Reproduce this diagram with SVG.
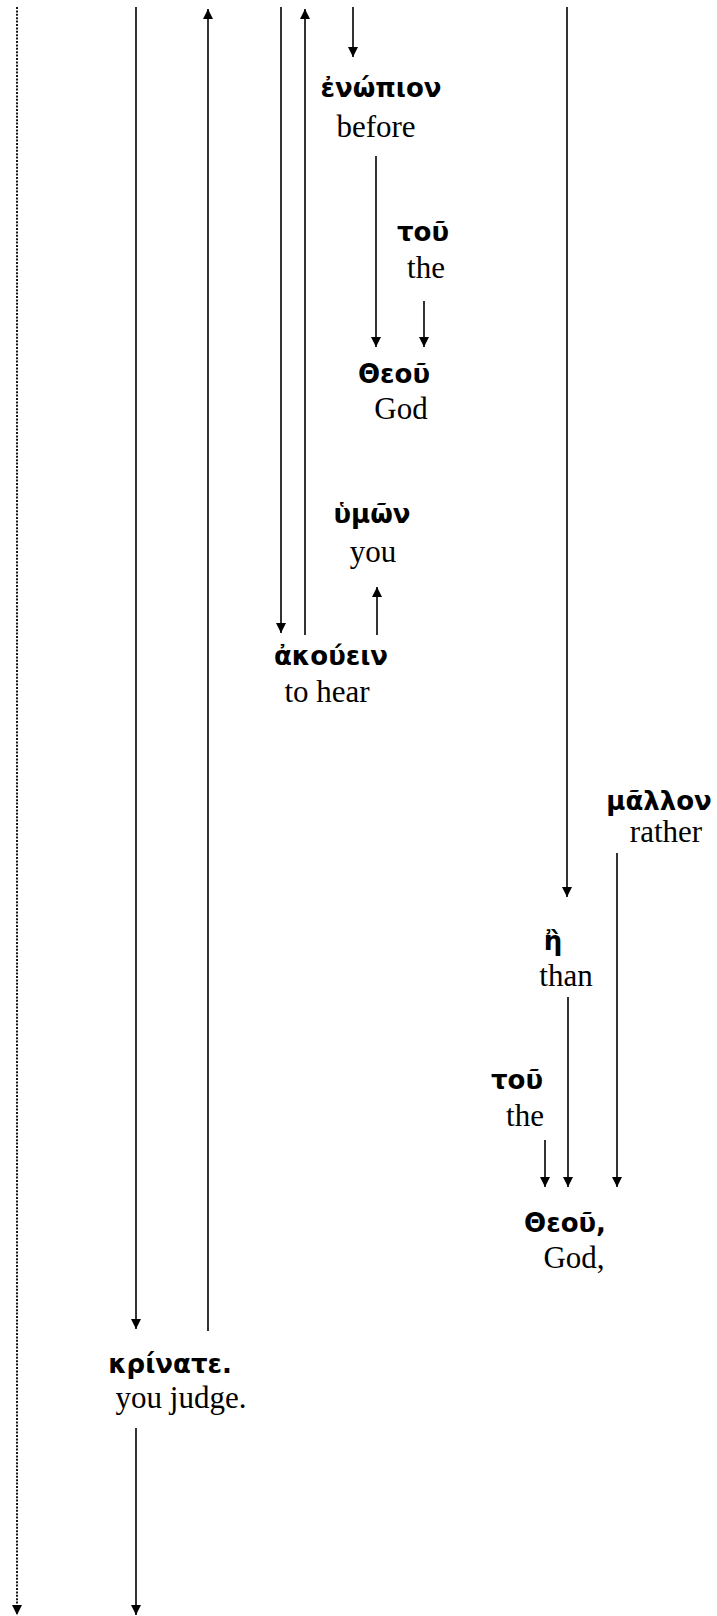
<svg xmlns="http://www.w3.org/2000/svg" width="717" height="1616" viewBox="0 0 717 1616">
<style>
.gk{font-family:"DejaVu Sans",sans-serif;font-weight:bold;font-size:26px;fill:#000;text-anchor:middle}
.en{font-family:"Liberation Serif",serif;font-size:31px;fill:#000;text-anchor:middle}
.c{stroke:#000;stroke-width:1.6;fill:none;marker-end:url(#ah)}
.d{stroke:#000;stroke-width:1.8;fill:none;stroke-dasharray:2 1.4;marker-end:url(#ah)}
</style>
<defs>
<marker id="ah" markerUnits="userSpaceOnUse" markerWidth="10" markerHeight="10" refX="10" refY="5" orient="auto">
<path d="M0,0 L10,5 L0,10 z" fill="#000"/>
</marker>
</defs>
<rect width="717" height="1616" fill="#fff"/>
<g id="connectors">
<line class="d" x1="17" y1="7" x2="17" y2="1615"/>
<line class="c" x1="136" y1="7" x2="136" y2="1329"/>
<line class="c" x1="208" y1="1331" x2="208" y2="9"/>
<line class="c" x1="281" y1="7" x2="281" y2="633"/>
<line class="c" x1="305" y1="635" x2="305" y2="9"/>
<line class="c" x1="353" y1="7" x2="353" y2="57"/>
<line class="c" x1="376" y1="156" x2="376" y2="347"/>
<line class="c" x1="424" y1="301" x2="424" y2="347"/>
<line class="c" x1="377" y1="635" x2="377" y2="587"/>
<line class="c" x1="567" y1="7" x2="567" y2="897"/>
<line class="c" x1="617" y1="853" x2="617" y2="1187"/>
<line class="c" x1="568" y1="997" x2="568" y2="1187"/>
<line class="c" x1="545" y1="1140" x2="545" y2="1187"/>
<line class="c" x1="136" y1="1428" x2="136" y2="1615"/>
</g>
<g id="n_enopion"><text class="gk" x="381" y="97">ἐνώπιον</text><text class="en" x="376" y="137">before</text></g>
<g id="n_tou1"><text class="gk" x="423" y="241">τοῦ</text><text class="en" x="426" y="278">the</text></g>
<g id="n_theou1"><text class="gk" x="394" y="383">Θεοῦ</text><text class="en" x="401" y="419">God</text></g>
<g id="n_humon"><text class="gk" x="372" y="523">ὑμῶν</text><text class="en" x="373" y="562">you</text></g>
<g id="n_akouein"><text class="gk" x="331" y="665">ἀκούειν</text><text class="en" x="327" y="702">to hear</text></g>
<g id="n_mallon"><text class="gk" x="659" y="810">μᾶλλον</text><text class="en" x="666" y="842">rather</text></g>
<g id="n_e"><text class="gk" x="553" y="950">ἢ</text><text class="en" x="566" y="986">than</text></g>
<g id="n_tou2"><text class="gk" x="517" y="1089">τοῦ</text><text class="en" x="525" y="1126">the</text></g>
<g id="n_theou2"><text class="gk" x="565" y="1232">Θεοῦ,</text><text class="en" x="574" y="1268">God,</text></g>
<g id="n_krinate"><text class="gk" x="170" y="1373">κρίνατε.</text><text class="en" x="181" y="1408">you judge.</text></g>
</svg>
